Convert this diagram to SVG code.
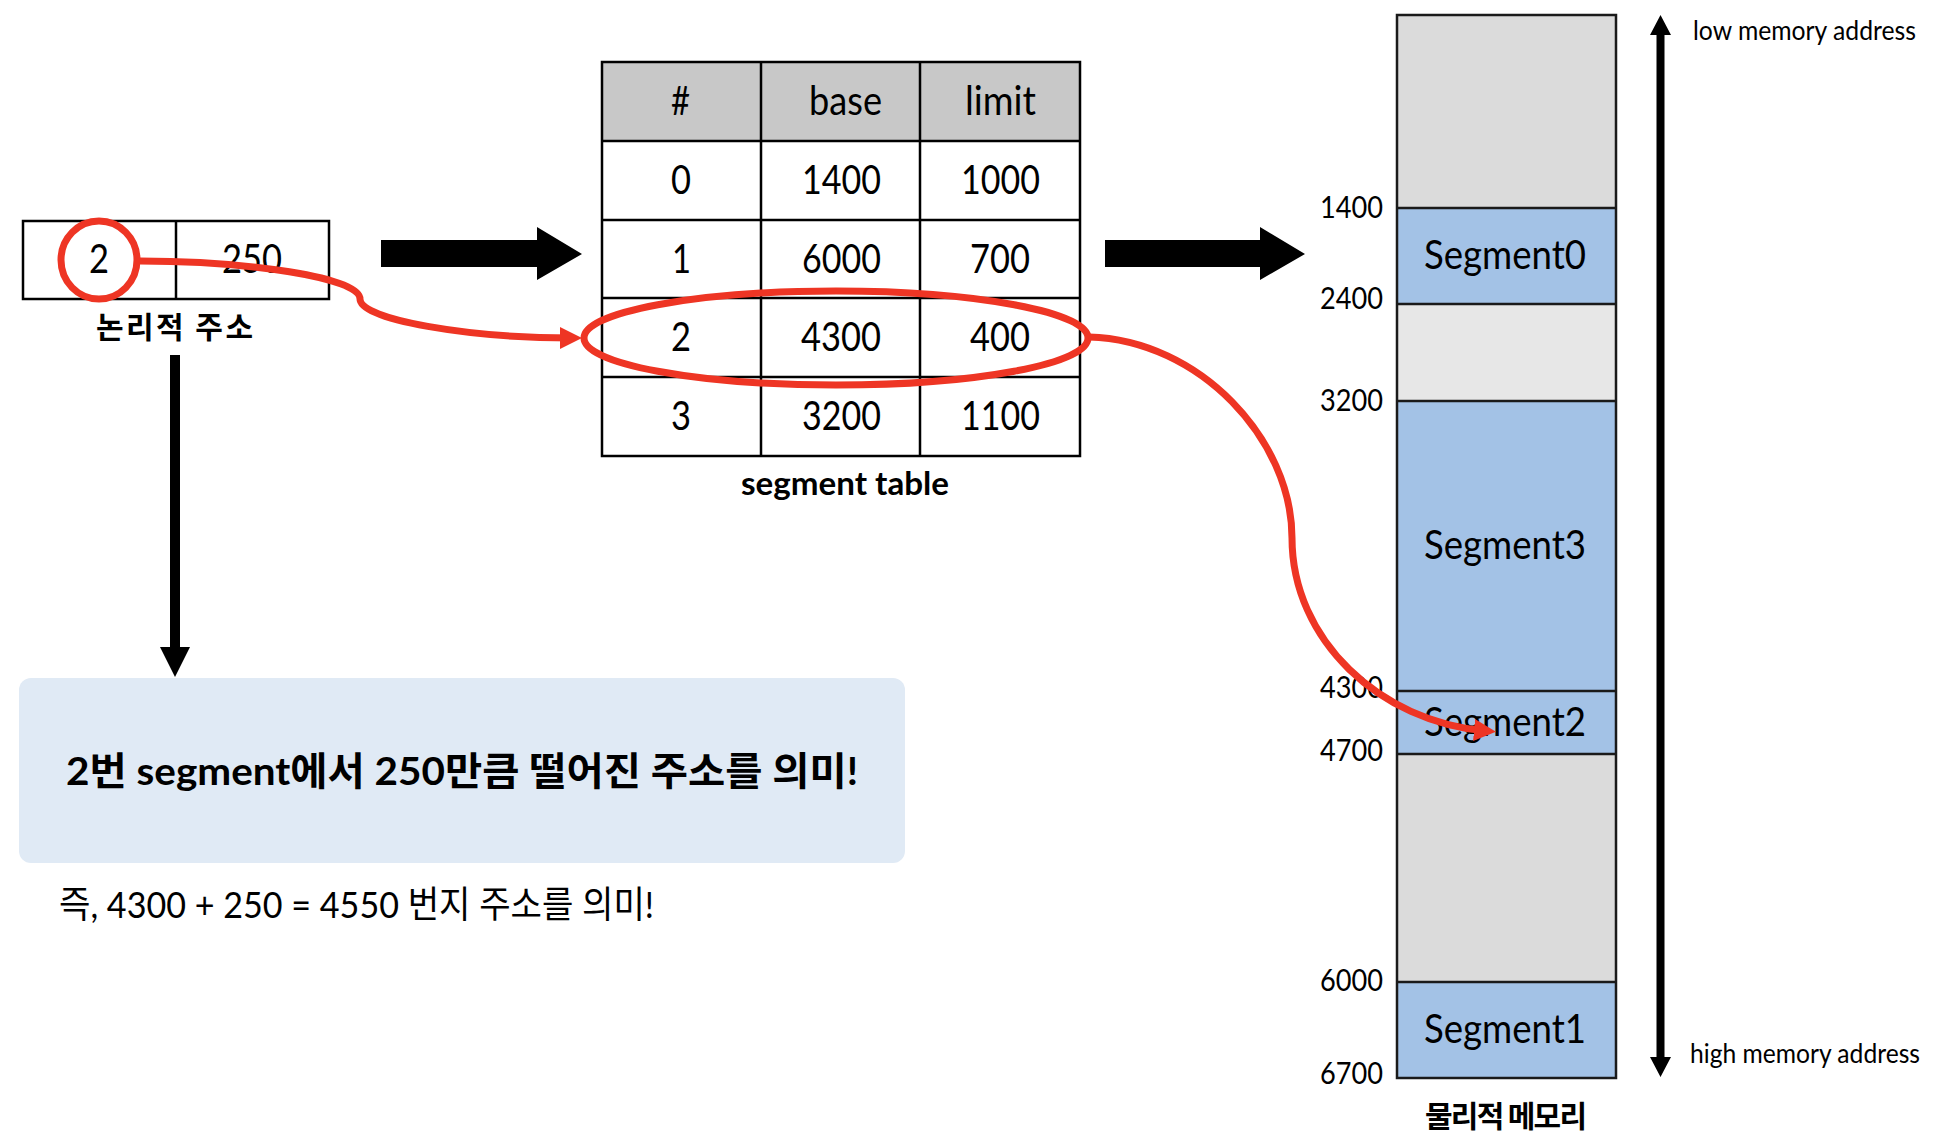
<svg xmlns="http://www.w3.org/2000/svg" width="1940" height="1148" viewBox="0 0 1940 1148">
<style>
text{font-family:Lato,"Noto Sans CJK KR",sans-serif;fill:#000}
.c{font-size:41px}
.s{font-size:41px}
.a{font-size:30px}
.n{font-size:26px}
.b{font-weight:700;font-size:32px}
.k{font-family:"Noto Sans CJK KR",sans-serif;font-weight:700;font-size:30px}
.l{fill:none;stroke:#000;stroke-width:2.5}
.m{stroke:#1a1a1a;stroke-width:2.5}
.gray{fill:#dbdbdb}.light{fill:#e7e7e7}.blue{fill:#a3c2e6}
.red{fill:none;stroke:#ee3524;stroke-width:7}
.big{fill:#000}
</style>
<defs>
<marker id="rh" markerUnits="userSpaceOnUse" markerWidth="24" markerHeight="24" refX="12" refY="11" orient="auto"><path d="M0 0L22 11L0 22Z" fill="#ee3524"/></marker>
</defs>
<rect width="1940" height="1148" fill="#fff"/>

<g id="logical-address">
<rect class="l" x="23" y="221" width="306" height="78"/>
<path class="l" d="M176 221V299"/>
<text class="c" x="89" y="273" textLength="20" lengthAdjust="spacingAndGlyphs">2</text>
<text class="c" x="222" y="273" textLength="60" lengthAdjust="spacingAndGlyphs">250</text>
<text class="k" x="96" y="338" textLength="157" lengthAdjust="spacing">논리적 주소</text>
</g>

<g id="segment-table">
<rect x="602" y="62" width="478" height="79" fill="#c8c8c8"/>
<rect class="l" x="602" y="62" width="478" height="394"/>
<path class="l" d="M761 62V456M920 62V456M602 141H1080M602 220H1080M602 298H1080M602 377H1080"/>
<text class="c" x="671" y="115" textLength="19" lengthAdjust="spacingAndGlyphs">#</text>
<text class="c" x="809" y="115" textLength="73" lengthAdjust="spacingAndGlyphs">base</text>
<text class="c" x="965" y="115" textLength="71" lengthAdjust="spacingAndGlyphs">limit</text>
<text class="c" x="671" y="194" textLength="20" lengthAdjust="spacingAndGlyphs">0</text>
<text class="c" x="802" y="194" textLength="79" lengthAdjust="spacingAndGlyphs">1400</text>
<text class="c" x="961" y="194" textLength="79" lengthAdjust="spacingAndGlyphs">1000</text>
<text class="c" x="672" y="273" textLength="19" lengthAdjust="spacingAndGlyphs">1</text>
<text class="c" x="802" y="273" textLength="79" lengthAdjust="spacingAndGlyphs">6000</text>
<text class="c" x="970" y="273" textLength="60" lengthAdjust="spacingAndGlyphs">700</text>
<text class="c" x="671" y="351" textLength="20" lengthAdjust="spacingAndGlyphs">2</text>
<text class="c" x="801" y="351" textLength="80" lengthAdjust="spacingAndGlyphs">4300</text>
<text class="c" x="970" y="351" textLength="60" lengthAdjust="spacingAndGlyphs">400</text>
<text class="c" x="671" y="430" textLength="20" lengthAdjust="spacingAndGlyphs">3</text>
<text class="c" x="802" y="430" textLength="79" lengthAdjust="spacingAndGlyphs">3200</text>
<text class="c" x="961" y="430" textLength="79" lengthAdjust="spacingAndGlyphs">1100</text>
<text class="b" x="741" y="495" textLength="208" lengthAdjust="spacingAndGlyphs">segment table</text>
</g>

<g id="explanation">
<rect x="19" y="678" width="886" height="185" rx="12" fill="#e0eaf5"/>
<text style="font-size:39px;font-weight:700" x="66" y="785" textLength="792" lengthAdjust="spacingAndGlyphs">2번 segment에서 250만큼 떨어진 주소를 의미!</text>
<text style="font-size:37px" x="59" y="918" textLength="595" lengthAdjust="spacingAndGlyphs">즉, 4300 + 250 = 4550 번지 주소를 의미!</text>
</g>

<g id="physical-memory">
<rect class="gray" x="1397" y="15" width="219" height="193"/>
<rect class="blue" x="1397" y="208" width="219" height="96"/>
<rect class="light" x="1397" y="304" width="219" height="97"/>
<rect class="blue" x="1397" y="401" width="219" height="290"/>
<rect class="blue" x="1397" y="691" width="219" height="63"/>
<rect class="gray" x="1397" y="754" width="219" height="228"/>
<rect class="blue" x="1397" y="982" width="219" height="96"/>
<path class="m" fill="none" d="M1397 15H1616V1078H1397ZM1397 208H1616M1397 304H1616M1397 401H1616M1397 691H1616M1397 754H1616M1397 982H1616"/>
<text class="s" x="1424" y="269" textLength="162" lengthAdjust="spacingAndGlyphs">Segment0</text>
<text class="s" x="1424" y="559" textLength="162" lengthAdjust="spacingAndGlyphs">Segment3</text>
<text class="s" x="1424" y="736" textLength="162" lengthAdjust="spacingAndGlyphs">Segment2</text>
<text class="s" x="1424" y="1043" textLength="162" lengthAdjust="spacingAndGlyphs">Segment1</text>
<text class="a" x="1320" y="218" textLength="63" lengthAdjust="spacingAndGlyphs">1400</text>
<text class="a" x="1320" y="309" textLength="63" lengthAdjust="spacingAndGlyphs">2400</text>
<text class="a" x="1320" y="411" textLength="63" lengthAdjust="spacingAndGlyphs">3200</text>
<text class="a" x="1320" y="698" textLength="63" lengthAdjust="spacingAndGlyphs">4300</text>
<text class="a" x="1320" y="761" textLength="63" lengthAdjust="spacingAndGlyphs">4700</text>
<text class="a" x="1320" y="991" textLength="63" lengthAdjust="spacingAndGlyphs">6000</text>
<text class="a" x="1320" y="1084" textLength="63" lengthAdjust="spacingAndGlyphs">6700</text>
<text class="k" x="1425" y="1127" textLength="162" lengthAdjust="spacing">물리적 메모리</text>
<text class="n" x="1693" y="40" textLength="223" lengthAdjust="spacingAndGlyphs">low memory address</text>
<text class="n" x="1690" y="1063" textLength="230" lengthAdjust="spacingAndGlyphs">high memory address</text>
</g>

<g id="connectors">
<path class="big" d="M381 240H537V227L582 254L537 280V267H381Z"/>
<path class="big" d="M1105 240H1260V227L1305 254L1260 280V267H1105Z"/>
<path class="big" d="M170 355H180V647H190L175 677L160 647H170Z"/>
<path class="big" d="M1656.500 35H1650L1660.500 15L1671 35H1664.500V1057H1671L1660.500 1077L1650 1057H1656.500Z"/>
<ellipse class="red" cx="99" cy="260" rx="38" ry="39"/>
<ellipse class="red" cx="836" cy="338" rx="252" ry="47"/>
<path class="red" marker-end="url(#rh)" d="M140 261C245 261 360 277 360 299C360 320 470 338 572 338"/>
<path class="red" marker-end="url(#rh)" d="M1089 337C1200 340 1292 440 1292 538C1292 640 1380 722 1486 731"/>
</g>
</svg>
